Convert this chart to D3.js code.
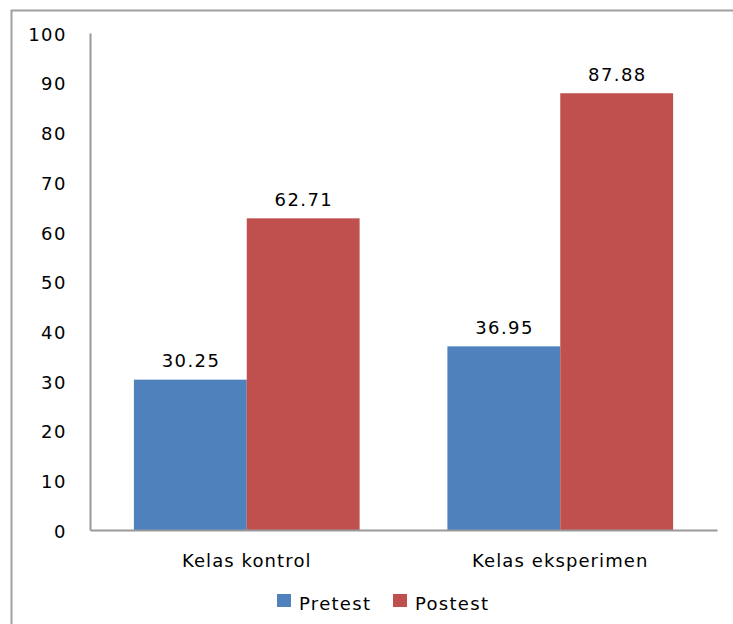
<!DOCTYPE html>
<html><head><meta charset="utf-8">
<script src="https://cdn.jsdelivr.net/npm/d3@7"></script>
<style>body{margin:0;background:#fff}svg{display:block}text{font-family:"DejaVu Sans",sans-serif;fill:#000}</style>
</head><body><svg id="c" width="733" height="624"></svg>
<script>
const categories = ["Kelas kontrol", "Kelas eksperimen"];
const seriesNames = ["Pretest", "Postest"];
const pretest = [30.25, 36.95];
const postest = [62.71, 87.88];
const yTicks = [0,10,20,30,40,50,60,70,80,90,100];
const colors = ["#4F81BD", "#C0504D"];

const svg = d3.select("#c");
svg.append("path").attr("d","M11.5,640 V10.5 H760")
  .attr("fill","none").attr("stroke","#a0a0a0").attr("stroke-width",2);

const x0 = 90, x1 = 717, yTop = 33, yBot = 530;
const y = d3.scaleLinear().domain([0,100]).range([yBot, yTop]);
const xb = d3.scaleBand().domain(categories).range([x0, x1]).paddingInner(0.28).paddingOuter(0.14);
const xs = d3.scaleBand().domain(seriesNames).range([0, xb.bandwidth()]);

const data = categories.map((c,i)=>({cat:c, vals:[pretest[i], postest[i]]}));

const g = svg.append("g");
data.forEach(d=>{
  d.vals.forEach((v,j)=>{
    const bx = xb(d.cat) + xs(seriesNames[j]);
    g.append("rect").attr("x",bx).attr("y",y(v)).attr("width",xs.bandwidth()).attr("height",yBot - y(v)).attr("fill",colors[j]);
    g.append("text").attr("x",bx + xs.bandwidth()/2 + 0.7).attr("y",y(v)-12.5).attr("text-anchor","middle")
      .style("font-size","18px").style("letter-spacing","1.4px").text(v.toFixed(2));
  });
});

// y axis
const yAxis = d3.axisLeft(y).tickValues(yTicks).tickSize(0).tickPadding(23);
const ya = svg.append("g").attr("transform",`translate(${x0},0)`).call(yAxis);
ya.select(".domain").attr("stroke","#999").attr("stroke-width",2);
ya.selectAll("text").attr("dy","0.4em").style("font-size","18px").style("letter-spacing","1.5px").attr("font-family",null);

// x axis
const xAxis = d3.axisBottom(xb).tickSize(0).tickPadding(24);
const xa = svg.append("g").attr("transform",`translate(0,${yBot})`).call(xAxis);
xa.select(".domain").attr("stroke","#999").attr("stroke-width",2);
xa.selectAll("text").style("font-size","18px").style("letter-spacing","1.1px").attr("font-family",null);

// legend
const leg = svg.append("g");
const legX = [277, 393];
seriesNames.forEach((s,j)=>{
  leg.append("rect").attr("x",legX[j]).attr("y",594).attr("width",14).attr("height",13).attr("fill",colors[j]);
  leg.append("text").attr("x",legX[j]+22).attr("y",610).style("font-size","18px").style("letter-spacing","1.3px").text(s);
});
</script></body></html>
